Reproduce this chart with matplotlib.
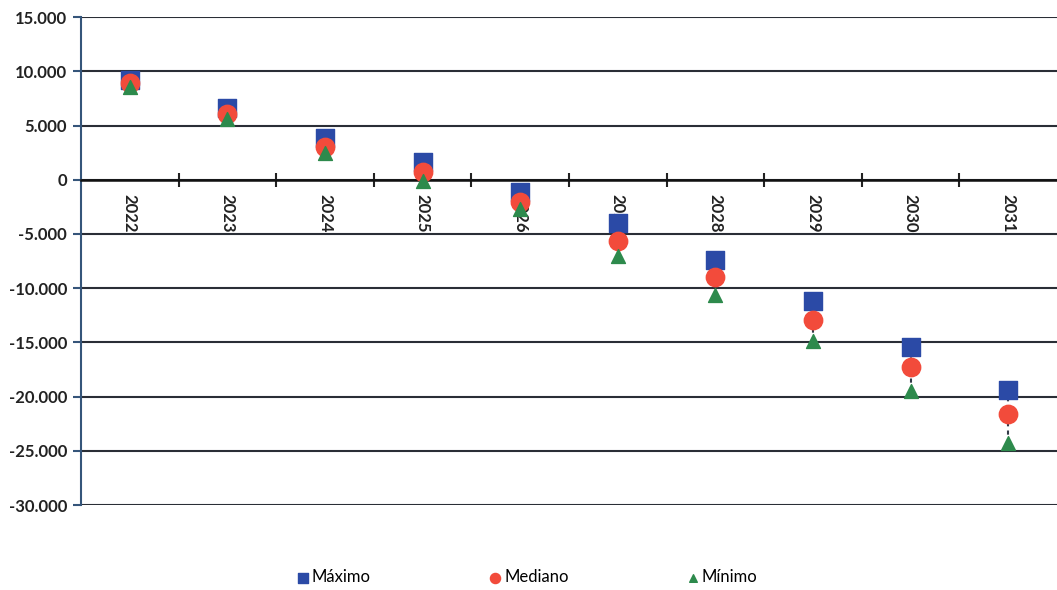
import matplotlib.pyplot as plt
from matplotlib.ticker import FuncFormatter

anos = ["2022", "2023", "2024", "2025", "2026", "2027", "2028", "2029", "2030", "2031"]
maximo = [9200, 6600, 3850, 1650, -1100, -4000, -7400, -11150, -15400, -19400]
mediano = [8900, 6050, 3050, 750, -2050, -5650, -8950, -12950, -17250, -21600]
minimo = [8600, 5600, 2500, -100, -2700, -7050, -10600, -14850, -19500, -24250]

plt.rcParams['font.family'] = ['Lato', 'DejaVu Sans']

fig = plt.figure(figsize=(10.57, 5.9), dpi=100)
ax = fig.add_axes([0.0766, 0.144, 0.9234, 0.827])

x = list(range(len(anos)))

# linhas tracejadas entre minimo e maximo
ax.vlines(x, minimo, maximo, colors="#333a48", linestyles=(0, (2, 2)), linewidth=1.5, zorder=2)

ax.scatter(x, maximo, marker="s", s=165, color="#2b4aa6", label="Máximo", zorder=3)
ax.scatter(x, mediano, marker="o", s=175, color="#f24b3b", label="Mediano", zorder=4)
ax.scatter(x, minimo, marker="^", s=100, color="#2d8a4c", label="Mínimo", zorder=5)

ax.set_xlim(-0.5, len(anos) - 0.5)
ax.set_ylim(-30000, 15000)
ax.set_yticks(range(-30000, 15001, 5000))
ax.yaxis.set_major_formatter(FuncFormatter(lambda v, p: f"{int(v):,}".replace(",", ".")))
ax.grid(axis="y", color="#2a2e36", linewidth=1.5, zorder=0)

ax.spines["bottom"].set_position(("data", 0))
ax.spines["bottom"].set_linewidth(1.8)
ax.spines["bottom"].set_color("#111111")
ax.spines["right"].set_visible(False)
ax.spines["top"].set_visible(False)
ax.spines["left"].set_color("#35557a")
ax.spines["left"].set_linewidth(1.5)

ax.set_xticks(x)
ax.set_xticklabels(anos, rotation=-90, fontsize=12, fontweight="bold", color="#222222")
ax.set_xticks([i + 0.5 for i in x[:-1]], minor=True)
ax.tick_params(axis="x", which="major", length=0, pad=10)
ax.tick_params(axis="x", which="minor", length=10, direction="inout", width=1.5, color="#222222")
ax.tick_params(axis="y", length=6, width=1.5, color="#35557a", labelsize=12, pad=4)
for t in ax.get_yticklabels():
    t.set_fontweight("bold")
    t.set_color("#222222")

fig.legend(loc="center", bbox_to_anchor=(0.498, 0.022), ncol=3, frameon=False,
           columnspacing=7.0, handletextpad=0.1, handlelength=0.9, fontsize=12,
           markerscale=0.55)

fig.savefig("out.png", dpi=100)
